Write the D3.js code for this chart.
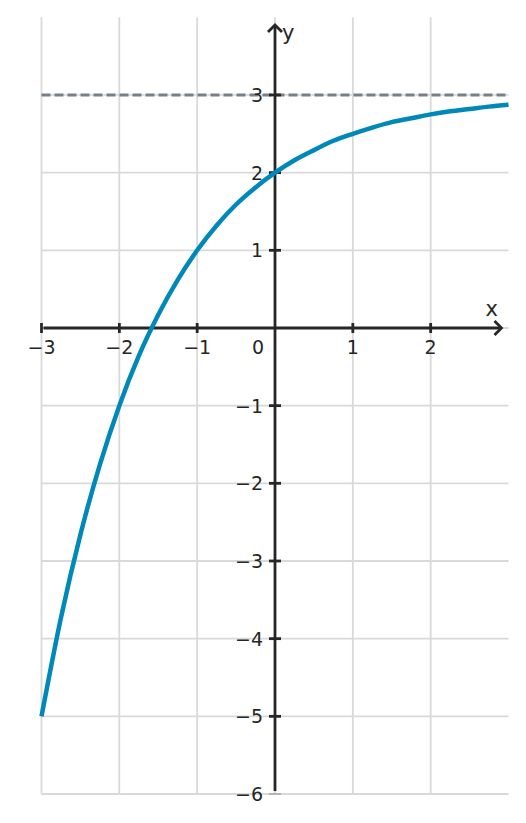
<!DOCTYPE html>
<html><head><meta charset="utf-8">
<script src="https://cdn.jsdelivr.net/npm/d3@7"></script>
<style>body{margin:0;background:#fff}svg{display:block}text{font-family:"DejaVu Sans",sans-serif}</style>
</head><body>
<script>
const xValues = [-3,-2.75,-2.5,-2.25,-2,-1.75,-1.5,-1.25,-1,-0.75,-0.5,-0.25,0,0.25,0.5,0.75,1,1.25,1.5,1.75,2,2.25,2.5,2.75,3];
const yValues = [-5,-3.73,-2.66,-1.76,-1,-0.36,0.17,0.62,1,1.32,1.59,1.81,2,2.16,2.29,2.41,2.5,2.58,2.65,2.70,2.75,2.79,2.82,2.85,2.875];
const asymptote = 3;
const xTicks = [-3,-2,-1,1,2];
const yTicks = [-6,-5,-4,-3,-2,-1,1,2,3];
const xGrid = [-3,-2,-1,0,1,2];
const yGrid = [-6,-5,-4,-3,-2,-1,0,1,2,3];

const W=526,H=823;
const svg=d3.select("body").append("svg").attr("width",W).attr("height",H);
const x=d3.scaleLinear().domain([-3,3]).range([41.5,508.5]);
const y=d3.scaleLinear().domain([-6,4]).range([794,17.3]);
const fmt=v=>v<0?"\u2212"+Math.abs(v):String(v);
const ink="#262626";

// grid
svg.append("g").selectAll("line").data(xGrid).join("line")
 .attr("x1",d=>x(d)).attr("x2",d=>x(d)).attr("y1",y(4)).attr("y2",y(-6))
 .attr("stroke","#d9d9d9").attr("stroke-width",1.8);
svg.append("g").selectAll("line").data(yGrid).join("line")
 .attr("x1",x(-3)).attr("x2",x(3)).attr("y1",d=>y(d)).attr("y2",d=>y(d))
 .attr("stroke","#d9d9d9").attr("stroke-width",1.8);

// asymptote
svg.append("line").attr("x1",x(-3)).attr("x2",x(3)).attr("y1",y(asymptote)).attr("y2",y(asymptote))
 .attr("stroke","#778088").attr("stroke-width",3).attr("stroke-dasharray","9,4");

// axes
const x0=x(0),y0=y(0);
svg.append("line").attr("x1",x(-3)+2).attr("x2",x(3)-8).attr("y1",y0).attr("y2",y0).attr("stroke",ink).attr("stroke-width",2.8);
svg.append("path").attr("d",`M${x(3)-14},${y0-7}L${x(3)-7},${y0}L${x(3)-14},${y0+7}`).attr("fill","none").attr("stroke",ink).attr("stroke-width",2.8);
svg.append("line").attr("x1",x0).attr("x2",x0).attr("y1",25).attr("y2",y(-6)-3).attr("stroke",ink).attr("stroke-width",2.8);
svg.append("path").attr("d",`M${x0-7},${32}L${x0},${25}L${x0+7},${32}`).attr("fill","none").attr("stroke",ink).attr("stroke-width",2.8);

// ticks
svg.append("g").selectAll("line").data(xTicks).join("line")
 .attr("x1",d=>x(d)).attr("x2",d=>x(d)).attr("y1",y0-5).attr("y2",y0+5).attr("stroke",ink).attr("stroke-width",2.8);
svg.append("g").selectAll("line").data(yTicks).join("line")
 .attr("x1",x0-6).attr("x2",x0+6).attr("y1",d=>y(d)).attr("y2",d=>y(d)).attr("stroke",d=>d===-6?"#999":ink).attr("stroke-width",d=>d===-6?1.2:2.8);

svg.append("g").selectAll("text").data(xTicks).join("text")
 .attr("x",d=>x(d)).attr("y",y0+26).attr("text-anchor","middle").attr("font-size",19).attr("fill",ink).text(fmt);
svg.append("g").selectAll("text").data(yTicks).join("text")
 .attr("x",x0-12).attr("y",d=>y(d)+7).attr("text-anchor","end").attr("font-size",19).attr("fill",ink).text(fmt);
svg.append("text").attr("x",x0-11).attr("y",y0+26).attr("text-anchor","end").attr("font-size",19).attr("fill",ink).text("0");
svg.append("text").attr("x",x(3)-23).attr("y",y0-12).attr("font-size",21).attr("fill",ink).text("x");
svg.append("text").attr("x",x0+7).attr("y",40).attr("font-size",21).attr("fill",ink).text("y");

// curve
const pts=xValues.map((v,i)=>[v,yValues[i]]);
svg.append("path").datum(pts)
 .attr("d",d3.line().x(d=>x(d[0])).y(d=>y(d[1])).curve(d3.curveMonotoneX))
 .attr("fill","none").attr("stroke","#0088b8").attr("stroke-width",4.5);
</script>
</body></html>
